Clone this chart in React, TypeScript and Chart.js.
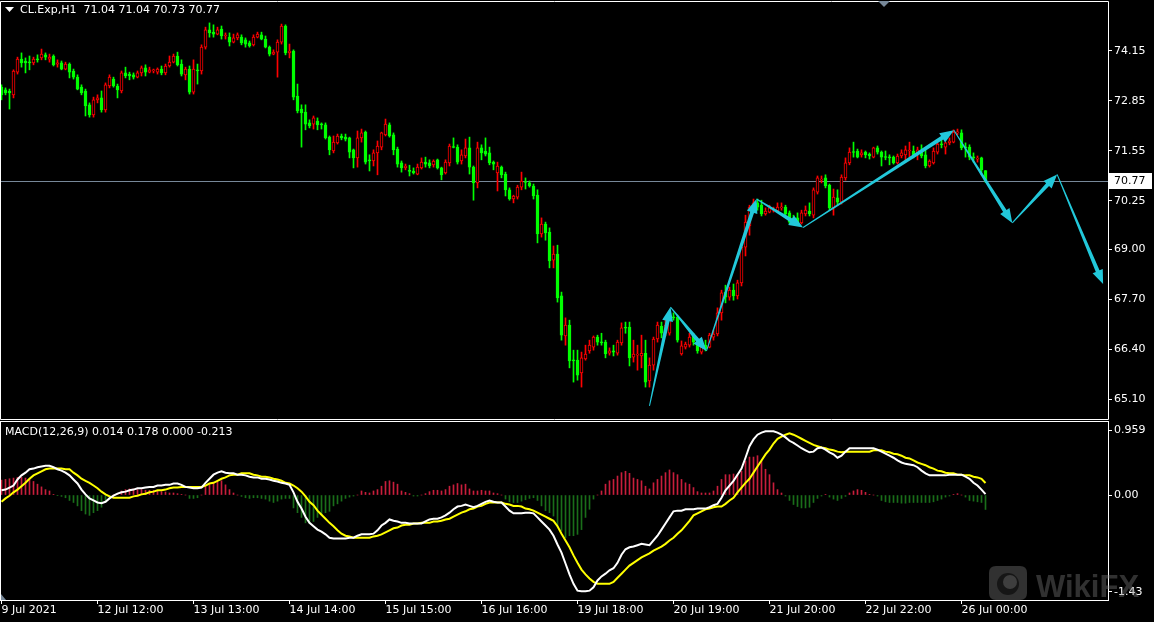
import { useEffect, useRef } from 'react';
import { Chart, registerables } from 'chart.js';

Chart.register(...registerables);

// ---------- DATA ----------
const symbolTitle = 'CL.Exp,H1  71.04 71.04 70.73 70.77';
const macdTitle = 'MACD(12,26,9) 0.014 0.178 0.000 -0.213';

const openP = [
  73.21, 73.14, 73.11, 73.01, 73.60, 73.94, 73.89, 73.86, 73.84, 73.94,
  73.97, 74.05, 73.94, 74.02, 73.81, 73.84, 73.68, 73.81, 73.63, 73.47,
  73.21, 73.11, 72.75, 72.49, 72.88, 72.93, 72.62, 73.24, 73.42, 73.24,
  73.11, 73.58, 73.55, 73.53, 73.47, 73.58, 73.71, 73.60, 73.63, 73.60,
  73.68, 73.58, 73.76, 73.86, 74.02, 73.81, 73.53, 73.68, 73.08, 73.66,
  73.63, 74.25, 74.70, 74.64, 74.59, 74.72, 74.54, 74.51, 74.38, 74.49,
  74.51, 74.44, 74.36, 74.31, 74.51, 74.57, 74.46, 74.25, 74.07, 74.12,
  74.38, 74.80, 74.10, 74.15, 72.98, 72.64, 72.56, 72.28, 72.25, 72.33,
  72.25, 72.23, 71.91, 71.55, 71.76, 71.94, 71.91, 71.89, 71.58, 71.37,
  71.89, 72.04, 71.32, 71.29, 71.50, 71.65, 71.97, 72.23, 71.97, 71.60,
  71.24, 71.11, 71.03, 71.03, 70.95, 71.11, 71.26, 71.24, 71.19, 71.32,
  71.11, 70.98, 71.24, 71.65, 71.65, 71.29, 71.42, 71.63, 71.13, 70.72,
  71.63, 71.55, 71.50, 71.26, 70.98, 71.13, 70.95, 70.54, 70.30, 70.35,
  70.61, 70.74, 70.72, 70.64, 70.40, 69.39, 69.65, 69.44, 68.71, 68.87,
  67.78, 66.74, 67.02, 66.11, 66.11, 65.78, 66.14, 66.35, 66.45, 66.71,
  66.58, 66.58, 66.29, 66.35, 66.29, 66.56, 66.95, 66.97, 66.19, 66.24,
  66.22, 66.29, 65.57, 65.98, 66.66, 66.99, 66.81, 66.81, 67.23, 67.23,
  66.27, 66.45, 66.50, 66.76, 66.56, 66.32, 66.50, 66.45, 66.71, 66.79,
  67.34, 67.88, 67.75, 67.93, 67.78, 68.12, 69.05, 69.60, 70.09, 70.20,
  70.14, 69.91, 69.96, 70.01, 69.99, 70.07, 70.09, 69.94, 69.81, 69.81,
  69.68, 69.91, 69.99, 69.88, 70.48, 70.79, 70.85, 70.66, 70.07, 70.33,
  70.22, 70.85, 71.24, 71.52, 71.55, 71.45, 71.52, 71.47, 71.39, 71.63,
  71.52, 71.39, 71.39, 71.39, 71.24, 71.42, 71.45, 71.55, 71.55, 71.50,
  71.52, 71.45, 71.16, 71.24, 71.52, 71.73, 71.65, 71.76, 71.78, 72.02,
  72.02, 71.65, 71.65, 71.39, 71.34, 71.37, 71.04,
];

const highP = [
  73.27, 73.19, 73.16, 73.66, 73.99, 74.10, 73.97, 74.02, 73.99, 74.05,
  74.20, 74.10, 74.07, 74.05, 73.92, 73.89, 73.86, 73.84, 73.68, 73.53,
  73.27, 73.16, 72.80, 72.95, 73.01, 73.11, 73.32, 73.53, 73.47, 73.29,
  73.63, 73.73, 73.60, 73.58, 73.63, 73.76, 73.79, 73.73, 73.68, 73.71,
  73.76, 73.81, 74.02, 74.07, 74.12, 73.92, 73.73, 73.76, 73.92, 73.81,
  74.31, 74.77, 74.88, 74.83, 74.77, 74.80, 74.62, 74.62, 74.59, 74.62,
  74.57, 74.49, 74.41, 74.57, 74.64, 74.64, 74.54, 74.28, 74.18, 74.44,
  74.85, 74.83, 74.33, 74.18, 73.29, 72.75, 72.75, 72.36, 72.46, 72.41,
  72.28, 72.28, 71.94, 71.94, 71.99, 71.99, 71.99, 71.91, 71.60, 72.07,
  72.12, 72.07, 71.45, 71.58, 71.81, 72.04, 72.38, 72.28, 72.02, 71.65,
  71.29, 71.21, 71.18, 71.11, 71.21, 71.37, 71.39, 71.32, 71.32, 71.34,
  71.13, 71.32, 71.73, 71.89, 71.71, 71.58, 71.86, 71.91, 71.16, 71.78,
  71.71, 71.89, 71.65, 71.29, 71.26, 71.16, 71.00, 70.59, 70.40, 70.66,
  71.00, 70.85, 70.77, 70.69, 70.54, 69.81, 69.70, 69.55, 69.08, 69.10,
  67.88, 67.21, 67.15, 66.37, 66.37, 66.32, 66.50, 66.63, 66.74, 66.76,
  66.81, 66.63, 66.43, 66.50, 66.63, 67.08, 67.10, 67.10, 66.63, 66.50,
  66.76, 66.63, 66.17, 66.71, 67.10, 67.10, 67.21, 67.36, 67.34, 67.28,
  66.61, 66.58, 66.81, 66.81, 66.63, 66.50, 66.63, 66.81, 66.89, 67.47,
  67.93, 68.06, 68.01, 68.09, 68.19, 69.10, 69.88, 70.14, 70.30, 70.30,
  70.27, 70.07, 70.14, 70.09, 70.20, 70.20, 70.14, 69.99, 69.88, 69.94,
  70.01, 70.12, 70.20, 70.59, 70.90, 70.90, 70.93, 70.69, 70.56, 70.54,
  70.93, 71.37, 71.63, 71.78, 71.60, 71.58, 71.55, 71.50, 71.65, 71.68,
  71.55, 71.55, 71.45, 71.42, 71.47, 71.58, 71.68, 71.78, 71.68, 71.65,
  71.71, 71.58, 71.32, 71.63, 71.78, 71.84, 71.78, 71.89, 72.10, 72.12,
  72.10, 71.76, 71.71, 71.50, 71.42, 71.39, 71.04,
];

const lowP = [
  72.88, 73.01, 72.64, 72.93, 73.55, 73.73, 73.58, 73.66, 73.79, 73.86,
  73.92, 73.92, 73.86, 73.76, 73.73, 73.66, 73.66, 73.45, 73.42, 73.14,
  73.01, 72.46, 72.43, 72.43, 72.80, 72.56, 72.56, 73.19, 73.21, 72.93,
  73.06, 73.45, 73.40, 73.42, 73.45, 73.50, 73.50, 73.58, 73.58, 73.55,
  73.53, 73.53, 73.73, 73.84, 73.76, 73.50, 73.40, 73.03, 73.03, 73.29,
  73.55, 74.20, 74.51, 74.51, 74.57, 74.46, 74.46, 74.28, 74.36, 74.44,
  74.31, 74.25, 74.25, 74.28, 74.49, 74.44, 74.23, 74.02, 74.05, 73.47,
  74.33, 74.05, 73.97, 72.88, 72.54, 71.65, 72.10, 72.15, 72.12, 72.10,
  72.12, 71.86, 71.45, 71.50, 71.73, 71.84, 71.81, 71.37, 71.11, 71.13,
  71.78, 71.21, 71.03, 71.16, 70.93, 71.58, 71.94, 71.91, 71.45, 71.13,
  71.00, 71.06, 70.90, 70.95, 70.93, 71.08, 71.13, 71.11, 71.13, 71.08,
  70.80, 70.95, 71.16, 71.63, 71.21, 71.21, 71.37, 70.95, 70.27, 70.59,
  71.32, 71.42, 71.19, 71.06, 70.51, 70.85, 70.38, 70.27, 70.20, 70.30,
  70.54, 70.56, 70.61, 70.30, 69.16, 69.31, 69.23, 68.51, 68.51, 67.62,
  66.63, 66.50, 65.91, 65.54, 65.59, 65.41, 66.11, 66.29, 66.37, 66.50,
  66.50, 66.17, 66.24, 66.22, 66.24, 66.50, 66.81, 65.96, 66.06, 65.85,
  65.91, 65.41, 65.41, 65.85, 66.58, 66.69, 66.74, 66.76, 67.15, 66.58,
  66.24, 66.40, 66.45, 66.50, 66.29, 66.27, 66.35, 66.43, 66.63, 66.74,
  67.15, 67.60, 67.67, 67.67, 67.70, 68.04, 68.82, 69.36, 70.04, 70.01,
  69.86, 69.88, 69.94, 69.96, 69.96, 70.01, 69.86, 69.65, 69.70, 69.62,
  69.65, 69.86, 69.86, 69.81, 70.43, 70.72, 70.59, 70.01, 69.88, 70.14,
  70.17, 70.79, 71.19, 71.39, 71.37, 71.39, 71.37, 71.34, 71.37, 71.47,
  71.16, 71.32, 71.19, 71.21, 71.21, 71.37, 71.32, 71.39, 71.37, 71.32,
  71.37, 71.11, 71.13, 71.21, 71.47, 71.63, 71.47, 71.71, 71.76, 71.97,
  71.58, 71.39, 71.32, 71.26, 71.26, 70.93, 70.73,
];

const closeP = [
  73.01, 73.06, 73.06, 73.63, 73.94, 73.84, 73.84, 73.84, 73.94, 73.92,
  74.07, 73.99, 73.99, 73.79, 73.84, 73.68, 73.81, 73.60, 73.47, 73.16,
  73.06, 72.72, 72.49, 72.88, 72.93, 72.62, 73.27, 73.47, 73.24, 73.14,
  73.58, 73.50, 73.50, 73.47, 73.58, 73.71, 73.60, 73.66, 73.66, 73.68,
  73.58, 73.76, 73.86, 74.02, 73.79, 73.55, 73.68, 73.08, 73.68, 73.63,
  74.25, 74.70, 74.62, 74.59, 74.70, 74.54, 74.55, 74.38, 74.49, 74.57,
  74.36, 74.33, 74.28, 74.51, 74.59, 74.46, 74.25, 74.07, 74.12, 74.38,
  74.80, 74.10, 74.15, 72.95, 72.59, 72.54, 72.25, 72.20, 72.41, 72.23,
  72.23, 71.89, 71.58, 71.78, 71.94, 71.89, 71.86, 71.52, 71.37, 71.89,
  72.02, 71.26, 71.29, 71.50, 71.68, 72.02, 72.25, 71.94, 71.58, 71.21,
  71.11, 71.16, 71.02, 70.98, 71.13, 71.26, 71.21, 71.16, 71.29, 71.11,
  70.93, 71.26, 71.68, 71.64, 71.26, 71.45, 71.63, 71.13, 70.72, 71.63,
  71.50, 71.47, 71.24, 71.21, 71.16, 70.93, 70.54, 70.30, 70.38, 70.61,
  70.77, 70.73, 70.64, 70.38, 69.39, 69.65, 69.42, 68.69, 68.87, 67.73,
  66.76, 67.02, 66.09, 66.09, 65.72, 66.17, 66.27, 66.50, 66.71, 66.58,
  66.56, 66.27, 66.35, 66.32, 66.58, 66.95, 66.94, 66.17, 66.27, 66.27,
  66.29, 65.54, 65.98, 66.66, 67.02, 66.81, 67.02, 67.26, 67.21, 66.63,
  66.48, 66.53, 66.71, 66.58, 66.35, 66.45, 66.40, 66.76, 66.79, 67.34,
  67.86, 67.75, 67.93, 67.78, 68.12, 69.05, 69.70, 70.09, 70.20, 70.09,
  69.91, 69.99, 70.07, 70.02, 70.09, 70.09, 69.91, 69.70, 69.75, 69.68,
  69.94, 70.01, 69.91, 70.54, 70.85, 70.82, 70.64, 70.07, 70.35, 70.22,
  70.87, 71.24, 71.52, 71.51, 71.39, 71.50, 71.45, 71.42, 71.63, 71.52,
  71.39, 71.38, 71.37, 71.24, 71.42, 71.50, 71.58, 71.56, 71.45, 71.58,
  71.42, 71.16, 71.29, 71.55, 71.73, 71.71, 71.76, 71.81, 72.04, 72.03,
  71.63, 71.63, 71.39, 71.37, 71.35, 71.06, 70.77,
];

const macdMain = [
  0.07, 0.08, 0.11, 0.14, 0.23, 0.29, 0.33, 0.38, 0.39, 0.41,
  0.42, 0.43, 0.43, 0.41, 0.38, 0.36, 0.33, 0.29, 0.23, 0.17,
  0.08, 0.01, -0.05, -0.08, -0.11, -0.12, -0.10, -0.05, -0.01, 0.02,
  0.04, 0.05, 0.07, 0.08, 0.10, 0.10, 0.11, 0.12, 0.12, 0.14,
  0.14, 0.15, 0.15, 0.17, 0.17, 0.15, 0.12, 0.11, 0.10, 0.10,
  0.11, 0.18, 0.24, 0.30, 0.33, 0.35, 0.33, 0.32, 0.32, 0.30,
  0.30, 0.29, 0.27, 0.26, 0.26, 0.24, 0.24, 0.23, 0.21, 0.20,
  0.18, 0.17, 0.15, 0.04, -0.10, -0.20, -0.32, -0.41, -0.46, -0.51,
  -0.54, -0.58, -0.63, -0.64, -0.64, -0.64, -0.64, -0.63, -0.63, -0.60,
  -0.58, -0.58, -0.58, -0.57, -0.52, -0.45, -0.41, -0.36, -0.38, -0.39,
  -0.41, -0.41, -0.42, -0.42, -0.42, -0.42, -0.39, -0.36, -0.35, -0.35,
  -0.33, -0.30, -0.26, -0.21, -0.17, -0.16, -0.14, -0.16, -0.18, -0.16,
  -0.13, -0.10, -0.08, -0.10, -0.11, -0.11, -0.17, -0.23, -0.27, -0.27,
  -0.27, -0.26, -0.26, -0.27, -0.33, -0.39, -0.45, -0.51, -0.60, -0.73,
  -0.85, -1.01, -1.17, -1.31, -1.41, -1.42, -1.42, -1.41, -1.36, -1.26,
  -1.20, -1.16, -1.11, -1.08, -1.00, -0.88, -0.80, -0.77, -0.76, -0.74,
  -0.72, -0.73, -0.74, -0.67, -0.60, -0.51, -0.42, -0.33, -0.24, -0.23,
  -0.23, -0.21, -0.21, -0.21, -0.20, -0.20, -0.20, -0.18, -0.15, -0.13,
  -0.04, 0.07, 0.14, 0.21, 0.30, 0.39, 0.55, 0.72, 0.82, 0.89,
  0.92, 0.94, 0.94, 0.94, 0.92, 0.89, 0.85, 0.80, 0.77, 0.73,
  0.69, 0.66, 0.63, 0.64, 0.69, 0.70, 0.67, 0.63, 0.60, 0.55,
  0.58, 0.64, 0.69, 0.69, 0.69, 0.69, 0.69, 0.69, 0.69, 0.67,
  0.64, 0.61, 0.58, 0.55, 0.51, 0.48, 0.46, 0.45, 0.44, 0.41,
  0.36, 0.32, 0.29, 0.29, 0.29, 0.29, 0.29, 0.30, 0.30, 0.30,
  0.30, 0.27, 0.24, 0.18, 0.14, 0.08, 0.014,
];

const macdSignal = [
  -0.10, -0.05, -0.01, 0.04, 0.08, 0.13, 0.18, 0.24, 0.29, 0.32,
  0.35, 0.38, 0.39, 0.39, 0.39, 0.39, 0.38, 0.38, 0.33, 0.29,
  0.24, 0.21, 0.18, 0.14, 0.10, 0.05, 0.01, -0.02, -0.04, -0.04,
  -0.04, -0.04, -0.04, -0.02, -0.01, 0.01, 0.02, 0.04, 0.05, 0.07,
  0.07, 0.08, 0.10, 0.11, 0.11, 0.12, 0.12, 0.12, 0.12, 0.12,
  0.12, 0.14, 0.17, 0.18, 0.21, 0.24, 0.26, 0.29, 0.30, 0.30,
  0.32, 0.32, 0.32, 0.30, 0.29, 0.27, 0.27, 0.26, 0.24, 0.23,
  0.21, 0.18, 0.17, 0.14, 0.10, 0.05, -0.02, -0.10, -0.15, -0.23,
  -0.29, -0.35, -0.41, -0.46, -0.52, -0.57, -0.60, -0.61, -0.63, -0.63,
  -0.63, -0.63, -0.63, -0.61, -0.60, -0.58, -0.55, -0.52, -0.49, -0.48,
  -0.45, -0.44, -0.44, -0.42, -0.42, -0.41, -0.41, -0.41, -0.39, -0.39,
  -0.38, -0.36, -0.35, -0.32, -0.29, -0.26, -0.24, -0.21, -0.20, -0.17,
  -0.16, -0.13, -0.11, -0.11, -0.11, -0.11, -0.13, -0.14, -0.16, -0.16,
  -0.17, -0.20, -0.21, -0.23, -0.26, -0.29, -0.32, -0.35, -0.38, -0.46,
  -0.57, -0.67, -0.77, -0.89, -1.00, -1.10, -1.17, -1.23, -1.28, -1.31,
  -1.31, -1.31, -1.31, -1.28, -1.22, -1.16, -1.10, -1.04, -1.00, -0.96,
  -0.92, -0.89, -0.86, -0.82, -0.79, -0.76, -0.72, -0.67, -0.63, -0.57,
  -0.52, -0.45, -0.38, -0.30, -0.27, -0.24, -0.21, -0.20, -0.18, -0.17,
  -0.17, -0.13, -0.08, -0.04, 0.04, 0.11, 0.18, 0.24, 0.33, 0.42,
  0.51, 0.60, 0.67, 0.76, 0.83, 0.86, 0.89, 0.91, 0.89, 0.86,
  0.83, 0.80, 0.77, 0.74, 0.72, 0.70, 0.69, 0.67, 0.66, 0.64,
  0.63, 0.64, 0.64, 0.64, 0.64, 0.64, 0.64, 0.64, 0.66, 0.66,
  0.66, 0.64, 0.63, 0.61, 0.60, 0.58, 0.55, 0.54, 0.51, 0.48,
  0.46, 0.44, 0.41, 0.39, 0.36, 0.35, 0.33, 0.32, 0.32, 0.30,
  0.30, 0.29, 0.29, 0.27, 0.26, 0.24, 0.178,
];

const macdHist = [
  0.22, 0.23, 0.24, 0.25, 0.26, 0.26, 0.25, 0.23, 0.20, 0.16,
  0.12, 0.08, 0.06, 0.01, -0.005, -0.02, -0.04, -0.08, -0.11, -0.16,
  -0.23, -0.28, -0.30, -0.26, -0.23, -0.18, -0.11, -0.05, 0.0, 0.02,
  0.06, 0.08, 0.09, 0.09, 0.08, 0.08, 0.07, 0.07, 0.07, 0.06,
  0.05, 0.045, 0.03, 0.03, 0.02, 0.01, 0.0, -0.05, -0.05, -0.04,
  0.0, 0.13, 0.15, 0.18, 0.19, 0.21, 0.15, 0.08, 0.03, 0.0,
  -0.02, -0.04, -0.05, -0.04, -0.04, -0.05, -0.06, -0.09, -0.11, -0.09,
  -0.06, -0.05, -0.05, -0.19, -0.26, -0.33, -0.41, -0.42, -0.39, -0.33,
  -0.29, -0.26, -0.24, -0.16, -0.13, -0.09, -0.05, -0.03, -0.015, 0.0,
  0.06, 0.04, 0.03, 0.06, 0.08, 0.13, 0.20, 0.21, 0.19, 0.16,
  0.06, 0.04, 0.02, -0.015, -0.015, 0.0, 0.02, 0.05, 0.07, 0.07,
  0.06, 0.08, 0.13, 0.15, 0.17, 0.15, 0.16, 0.09, 0.06, 0.06,
  0.07, 0.06, 0.06, 0.03, 0.02, 0.0, -0.06, -0.10, -0.11, -0.11,
  -0.09, -0.07, -0.05, -0.04, -0.08, -0.16, -0.23, -0.26, -0.31, -0.47,
  -0.53, -0.63, -0.60, -0.60, -0.58, -0.51, -0.33, -0.21, -0.06, 0.0,
  0.06, 0.16, 0.21, 0.23, 0.28, 0.33, 0.35, 0.32, 0.25, 0.23,
  0.21, 0.13, 0.09, 0.18, 0.23, 0.28, 0.33, 0.37, 0.33, 0.30,
  0.23, 0.18, 0.16, 0.11, 0.05, 0.03, 0.03, 0.03, 0.06, 0.13,
  0.23, 0.30, 0.30, 0.31, 0.31, 0.35, 0.50, 0.56, 0.56, 0.58,
  0.50, 0.38, 0.30, 0.18, 0.08, 0.03, -0.015, -0.08, -0.14, -0.17,
  -0.19, -0.19, -0.18, -0.11, -0.05, -0.015, 0.005, -0.03, -0.06, -0.08,
  -0.05, -0.02, 0.03, 0.06, 0.08, 0.07, 0.04, 0.01, 0.0, -0.015,
  -0.08, -0.10, -0.11, -0.11, -0.11, -0.12, -0.12, -0.11, -0.11, -0.11,
  -0.11, -0.11, -0.11, -0.10, -0.08, -0.06, -0.03, -0.015, 0.005, 0.02,
  0.0, -0.03, -0.08, -0.09, -0.10, -0.11, -0.213,
];

const priceTicks = [74.15, 72.85, 71.55, 70.25, 69.0, 67.7, 66.4, 65.1];
const macdTicks = [0.959, 0, -1.43];
const macdTickLabels = ['0.959', '0.00', '-1.43'];
const timeTickIndex = [0, 24, 48, 72, 96, 120, 144, 168, 192, 216, 240];
const timeTickLabels = [
  '9 Jul 2021', '12 Jul 12:00', '13 Jul 13:00', '14 Jul 14:00', '15 Jul 15:00',
  '16 Jul 16:00', '19 Jul 18:00', '20 Jul 19:00', '21 Jul 20:00', '22 Jul 22:00',
  '26 Jul 00:00',
];
const lastPrice = 70.77;
// hand-drawn forecast arrows: bar position and price of each vertex
const arrowX = [162, 167.25, 176.25, 188.75, 200.4, 238.1, 252.7, 263.9, 275.4];
const arrowY = [64.92, 67.49, 66.35, 70.30, 69.56, 72.09, 69.68, 70.94, 68.09];

// ---------- STYLE ----------
const FONT = '"DejaVu Sans", "Liberation Sans", sans-serif';
const UP = '#ff0000';
const DOWN = '#00ff00';
const HIST_POS = '#c81e3c';
const HIST_NEG = '#1a6e1a';
const ARROW = '#22c8da';
const X_MIN = -0.375;
const X_MAX = 276.625;
const PRICE_MIN = 64.606;
const PRICE_MAX = 75.424;
const MACD_MIN = -1.548;
const MACD_MAX = 1.077;

function drawArrow(ctx: CanvasRenderingContext2D, x0: number, y0: number, x1: number, y1: number) {
  const dx = x1 - x0;
  const dy = y1 - y0;
  const len = Math.hypot(dx, dy);
  const ux = dx / len;
  const uy = dy / len;
  const nx = -uy;
  const ny = ux;
  const headLen = 14;
  const headHalf = 5.5;
  const bx = x1 - ux * headLen;
  const by = y1 - uy * headLen;
  const w0 = 0.5;
  const w1 = 2.0;
  ctx.beginPath();
  ctx.moveTo(x0 + nx * w0, y0 + ny * w0);
  ctx.lineTo(bx + nx * w1, by + ny * w1);
  ctx.lineTo(bx + nx * headHalf, by + ny * headHalf);
  ctx.lineTo(x1, y1);
  ctx.lineTo(bx - nx * headHalf, by - ny * headHalf);
  ctx.lineTo(bx - nx * w1, by - ny * w1);
  ctx.lineTo(x0 - nx * w0, y0 - ny * w0);
  ctx.closePath();
  ctx.fill();
}

const mainPlugin = {
  id: 'mainDeco',
  beforeDraw(chart: any) {
    const { ctx, width, height } = chart;
    ctx.save();
    ctx.fillStyle = '#000';
    ctx.fillRect(0, 0, width, height);
    ctx.restore();
  },
  beforeDatasetsDraw(chart: any) {
    const { ctx, chartArea, scales } = chart;
    const y = Math.round(scales.y.getPixelForValue(lastPrice)) + 0.5;
    ctx.save();
    ctx.strokeStyle = '#778899';
    ctx.lineWidth = 1;
    ctx.beginPath();
    ctx.moveTo(chartArea.left, y);
    ctx.lineTo(chartArea.right, y);
    ctx.stroke();
    ctx.restore();
  },
  afterDatasetsDraw(chart: any) {
    const { ctx, scales } = chart;
    ctx.save();
    ctx.fillStyle = ARROW;
    for (let k = 0; k < arrowX.length - 1; k++) {
      drawArrow(
        ctx,
        scales.x.getPixelForValue(arrowX[k]),
        scales.y.getPixelForValue(arrowY[k]),
        scales.x.getPixelForValue(arrowX[k + 1]),
        scales.y.getPixelForValue(arrowY[k + 1]),
      );
    }
    ctx.restore();
  },
  afterDraw(chart: any) {
    const { ctx, chartArea, scales } = chart;
    ctx.save();
    // frame
    ctx.strokeStyle = '#ffffff';
    ctx.lineWidth = 1;
    ctx.beginPath();
    ctx.moveTo(0.5, 1.5);
    ctx.lineTo(chartArea.right + 0.5, 1.5);
    ctx.lineTo(chartArea.right + 0.5, 419.5);
    ctx.lineTo(0.5, 419.5);
    ctx.closePath();
    ctx.stroke();
    // title
    ctx.fillStyle = '#ffffff';
    ctx.beginPath();
    ctx.moveTo(5, 7);
    ctx.lineTo(14, 7);
    ctx.lineTo(9.5, 12);
    ctx.closePath();
    ctx.fill();
    ctx.font = `11px ${FONT}`;
    ctx.textBaseline = 'middle';
    ctx.textAlign = 'left';
    ctx.fillText(symbolTitle, 20, 10.5);
    // shift marker
    ctx.fillStyle = '#778899';
    ctx.beginPath();
    ctx.moveTo(878, 1);
    ctx.lineTo(890, 1);
    ctx.lineTo(884, 7);
    ctx.closePath();
    ctx.fill();
    // last price label
    const y = Math.round(scales.y.getPixelForValue(lastPrice));
    ctx.fillStyle = '#ffffff';
    ctx.fillRect(chartArea.right + 1, y - 8, 43, 16);
    ctx.fillStyle = '#000000';
    ctx.fillText(lastPrice.toFixed(2), chartArea.right + 6, y + 0.5);
    ctx.restore();
  },
};

const macdPlugin = {
  id: 'macdDeco',
  beforeDraw(chart: any) {
    const { ctx, width, height } = chart;
    ctx.save();
    ctx.fillStyle = '#000';
    ctx.fillRect(0, 0, width, height);
    ctx.restore();
  },
  afterDraw(chart: any) {
    const { ctx, chartArea } = chart;
    ctx.save();
    ctx.strokeStyle = '#ffffff';
    ctx.lineWidth = 1;
    ctx.strokeRect(0.5, chartArea.top - 0.5, chartArea.right, chartArea.bottom - chartArea.top + 1);
    ctx.fillStyle = '#ffffff';
    ctx.font = `11px ${FONT}`;
    ctx.textBaseline = 'middle';
    ctx.textAlign = 'left';
    ctx.fillText(macdTitle, 5, 12.5);
    // small corner marker
    ctx.fillStyle = '#778899';
    ctx.beginPath();
    ctx.moveTo(1, chartArea.bottom - 6);
    ctx.lineTo(6, chartArea.bottom);
    ctx.lineTo(1, chartArea.bottom);
    ctx.closePath();
    ctx.fill();
    // watermark
    ctx.globalAlpha = 0.4;
    ctx.fillStyle = '#7a7a7a';
    const bx = 989;
    const by = 146;
    const bw = 38;
    const bh = 34;
    const r = 7;
    ctx.beginPath();
    ctx.moveTo(bx + r, by);
    ctx.lineTo(bx + bw - r, by);
    ctx.quadraticCurveTo(bx + bw, by, bx + bw, by + r);
    ctx.lineTo(bx + bw, by + bh - r);
    ctx.quadraticCurveTo(bx + bw, by + bh, bx + bw - r, by + bh);
    ctx.lineTo(bx + r, by + bh);
    ctx.quadraticCurveTo(bx, by + bh, bx, by + bh - r);
    ctx.lineTo(bx, by + r);
    ctx.quadraticCurveTo(bx, by, bx + r, by);
    ctx.closePath();
    ctx.fill();
    ctx.globalAlpha = 0.55;
    ctx.fillStyle = '#000';
    ctx.beginPath();
    ctx.arc(bx + 19, by + 18, 11, 0, Math.PI * 2);
    ctx.fill();
    ctx.globalAlpha = 0.4;
    ctx.fillStyle = '#7a7a7a';
    ctx.beginPath();
    ctx.arc(bx + 21, by + 16, 7, 0, Math.PI * 2);
    ctx.fill();
    ctx.font = `bold 31px "Liberation Sans", "DejaVu Sans", sans-serif`;
    ctx.textBaseline = 'alphabetic';
    ctx.fillText('WikiFX', 1036, 177);
    ctx.restore();
  },
};

const noPadY = (s: any) => {
  s.width = 46;
  s.paddingTop = 0;
  s.paddingBottom = 0;
  s.paddingLeft = 0;
  s.paddingRight = 0;
};

export default function App() {
  const mainRef = useRef<HTMLCanvasElement>(null);
  const macdRef = useRef<HTMLCanvasElement>(null);

  useEffect(() => {
    document.body.style.margin = '0';
    document.body.style.background = '#000';
    const idx = closeP.map((_, i) => i);
    const isUp = closeP.map((c, i) => c >= openP[i]);

    const main = new Chart(mainRef.current as HTMLCanvasElement, {
      type: 'bar',
      data: {
        datasets: [
          {
            label: 'wick',
            data: idx.map((i) => ({ x: i, y: [lowP[i], highP[i]] })) as any,
            backgroundColor: isUp.map((u) => (u ? UP : DOWN)),
            barThickness: 1,
            grouped: false,
            order: 2,
          } as any,
          {
            label: 'body',
            data: idx.map((i) => ({ x: i, y: [openP[i], closeP[i]] })) as any,
            backgroundColor: isUp.map((u) => (u ? '#000000' : DOWN)),
            borderColor: isUp.map((u) => (u ? UP : DOWN)),
            borderWidth: 1,
            borderSkipped: false,
            barThickness: 3,
            minBarLength: 1,
            grouped: false,
            order: 1,
          } as any,
        ],
      },
      options: {
        animation: false,
        responsive: false,
        events: [],
        layout: { padding: { top: 2, bottom: 2, left: 0, right: 0 }, autoPadding: false } as any,
        plugins: { legend: { display: false }, tooltip: { enabled: false } },
        scales: {
          x: { type: 'linear', min: X_MIN, max: X_MAX, display: false, offset: false },
          y: {
            type: 'linear',
            position: 'right',
            min: PRICE_MIN,
            max: PRICE_MAX,
            beginAtZero: false,
            afterBuildTicks: (s: any) => {
              s.ticks = priceTicks.map((v) => ({ value: v }));
            },
            afterFit: noPadY,
            ticks: {
              color: '#ffffff',
              font: { family: FONT, size: 11 },
              padding: 2,
              autoSkip: false,
              callback: (v: any) => Number(v).toFixed(2),
            },
            grid: { drawOnChartArea: false, color: '#ffffff', tickLength: 4 },
            border: { display: false },
          } as any,
        },
      },
      plugins: [mainPlugin],
    });

    const macd = new Chart(macdRef.current as HTMLCanvasElement, {
      type: 'bar',
      data: {
        datasets: [
          {
            type: 'line',
            label: 'MACD',
            data: idx.map((i) => ({ x: i, y: macdMain[i] })),
            borderColor: '#ffffff',
            borderWidth: 2,
            pointRadius: 0,
            tension: 0,
            order: 0,
          } as any,
          {
            type: 'line',
            label: 'Signal',
            data: idx.map((i) => ({ x: i, y: macdSignal[i] })),
            borderColor: '#ffff00',
            borderWidth: 2,
            pointRadius: 0,
            tension: 0,
            order: 1,
          } as any,
          {
            type: 'bar',
            label: 'Histogram',
            data: idx.map((i) => ({ x: i, y: macdHist[i] })),
            backgroundColor: macdHist.map((v) => (v >= 0 ? HIST_POS : HIST_NEG)),
            barThickness: 1,
            grouped: false,
            order: 2,
          } as any,
        ],
      },
      options: {
        animation: false,
        responsive: false,
        events: [],
        layout: { padding: { top: 2, bottom: 0, left: 0, right: 0 }, autoPadding: false } as any,
        plugins: { legend: { display: false }, tooltip: { enabled: false } },
        scales: {
          x: {
            type: 'linear',
            min: X_MIN,
            max: X_MAX,
            offset: false,
            afterBuildTicks: (s: any) => {
              s.ticks = timeTickIndex.map((v) => ({ value: v }));
            },
            afterFit: (s: any) => {
              s.height = 22;
              s.paddingLeft = 0;
              s.paddingRight = 0;
              s.paddingTop = 0;
              s.paddingBottom = 0;
            },
            ticks: {
              color: '#ffffff',
              font: { family: FONT, size: 11 },
              padding: 0,
              align: 'start',
              autoSkip: false,
              maxRotation: 0,
              minRotation: 0,
              callback: (v: any) => {
                const k = timeTickIndex.indexOf(Number(v));
                return k >= 0 ? timeTickLabels[k] : '';
              },
            },
            grid: { drawOnChartArea: false, color: '#ffffff', tickLength: 4, offset: false },
            border: { display: false },
          } as any,
          y: {
            type: 'linear',
            position: 'right',
            min: MACD_MIN,
            max: MACD_MAX,
            beginAtZero: false,
            afterBuildTicks: (s: any) => {
              s.ticks = macdTicks.map((v) => ({ value: v }));
            },
            afterFit: noPadY,
            ticks: {
              color: '#ffffff',
              font: { family: FONT, size: 11 },
              padding: 2,
              autoSkip: false,
              callback: (v: any) => {
                const k = macdTicks.indexOf(Number(v));
                return k >= 0 ? macdTickLabels[k] : '';
              },
            },
            grid: { drawOnChartArea: false, color: '#ffffff', tickLength: 4 },
            border: { display: false },
          } as any,
        },
      },
      plugins: [macdPlugin],
    });

    return () => {
      main.destroy();
      macd.destroy();
    };
  }, []);

  return (
    <div
      style={{
        position: 'absolute',
        left: 0,
        top: 0,
        width: 1154,
        height: 622,
        background: '#000',
        overflow: 'hidden',
      }}
    >
      <canvas
        ref={mainRef}
        width={1154}
        height={420}
        style={{ position: 'absolute', left: 0, top: 0, width: 1154, height: 420 }}
      />
      <canvas
        ref={macdRef}
        width={1154}
        height={202}
        style={{ position: 'absolute', left: 0, top: 420, width: 1154, height: 202 }}
      />
    </div>
  );
}
